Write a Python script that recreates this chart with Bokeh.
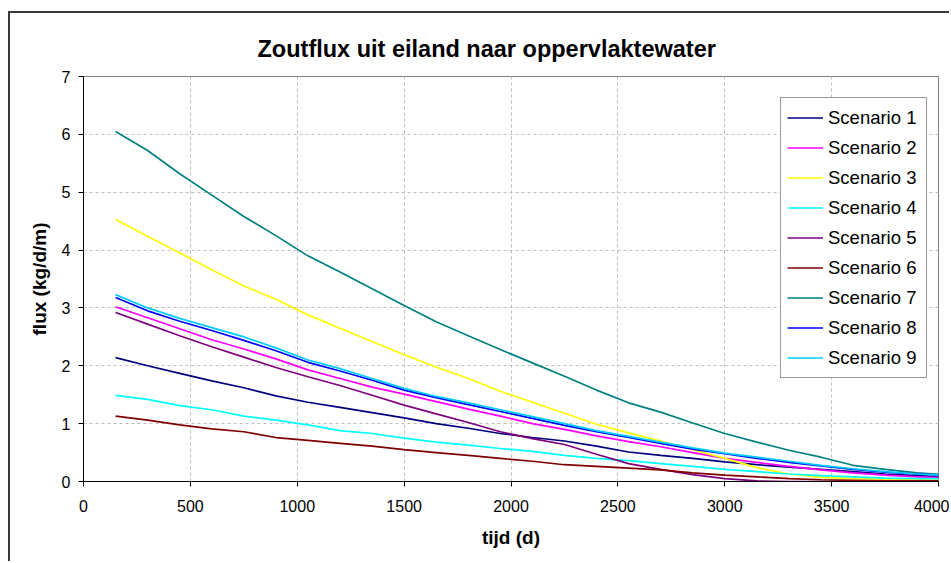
from bokeh.plotting import figure
from bokeh.models import FixedTicker, Legend, LegendItem
from bokeh.embed import file_html
from bokeh.resources import INLINE

# ---- data ----
tijd = [150, 300, 450, 600, 750, 900, 1050, 1200, 1350, 1500, 1650, 1800, 1950, 2100,
        2250, 2400, 2550, 2700, 2850, 3000, 3150, 3300, 3450, 3600, 3750, 3900, 4050]

scenario_1 = [2.14, 2.00, 1.87, 1.74, 1.62, 1.48, 1.37, 1.28, 1.19, 1.10, 1.00, 0.92, 0.83, 0.76,
              0.70, 0.61, 0.51, 0.45, 0.40, 0.34, 0.29, 0.25, 0.21, 0.17, 0.13, 0.10, 0.08]
scenario_2 = [3.02, 2.83, 2.64, 2.45, 2.29, 2.12, 1.93, 1.78, 1.63, 1.51, 1.38, 1.25, 1.13, 1.00,
              0.90, 0.79, 0.69, 0.60, 0.50, 0.40, 0.33, 0.26, 0.20, 0.15, 0.11, 0.08, 0.06]
scenario_3 = [4.53, 4.24, 3.95, 3.66, 3.38, 3.15, 2.88, 2.65, 2.42, 2.19, 1.98, 1.78, 1.56, 1.37,
              1.18, 0.99, 0.84, 0.70, 0.55, 0.40, 0.24, 0.13, 0.07, 0.05, 0.04, 0.03, 0.02]
scenario_4 = [1.49, 1.42, 1.31, 1.24, 1.13, 1.06, 0.98, 0.88, 0.83, 0.75, 0.68, 0.63, 0.57, 0.52,
              0.45, 0.40, 0.36, 0.31, 0.26, 0.21, 0.17, 0.13, 0.10, 0.08, 0.06, 0.05, 0.05]
scenario_5 = [2.92, 2.72, 2.52, 2.33, 2.15, 1.97, 1.81, 1.66, 1.49, 1.32, 1.17, 1.02, 0.86, 0.74,
              0.64, 0.47, 0.31, 0.21, 0.12, 0.05, 0.01, 0.00, 0.00, 0.00, 0.00, 0.00, 0.00]
scenario_6 = [1.13, 1.06, 0.98, 0.91, 0.86, 0.76, 0.71, 0.66, 0.61, 0.55, 0.50, 0.45, 0.40, 0.35,
              0.29, 0.26, 0.23, 0.20, 0.15, 0.11, 0.08, 0.05, 0.03, 0.02, 0.01, 0.01, 0.01]
scenario_7 = [6.05, 5.72, 5.32, 4.95, 4.58, 4.25, 3.90, 3.62, 3.33, 3.04, 2.76, 2.52, 2.28, 2.05,
              1.82, 1.58, 1.36, 1.20, 1.01, 0.83, 0.68, 0.54, 0.42, 0.28, 0.21, 0.15, 0.11]
scenario_8 = [3.18, 2.95, 2.77, 2.61, 2.44, 2.26, 2.06, 1.91, 1.75, 1.58, 1.45, 1.33, 1.21, 1.09,
              0.97, 0.86, 0.76, 0.66, 0.56, 0.48, 0.40, 0.33, 0.27, 0.21, 0.16, 0.13, 0.10]
scenario_9 = [3.23, 3.00, 2.82, 2.66, 2.50, 2.31, 2.10, 1.95, 1.78, 1.61, 1.47, 1.36, 1.24, 1.12,
              1.00, 0.88, 0.78, 0.68, 0.58, 0.49, 0.42, 0.35, 0.28, 0.22, 0.17, 0.13, 0.10]

series_names = ["Scenario 1", "Scenario 2", "Scenario 3", "Scenario 4", "Scenario 5",
                "Scenario 6", "Scenario 7", "Scenario 8", "Scenario 9"]
series_values = [scenario_1, scenario_2, scenario_3, scenario_4, scenario_5,
                 scenario_6, scenario_7, scenario_8, scenario_9]
series_colors = ["#000080", "#FF00FF", "#FFFF00", "#00FFFF", "#800080",
                 "#800000", "#008080", "#0000FF", "#00CCFF"]

x_ticks = [0, 500, 1000, 1500, 2000, 2500, 3000, 3500, 4000]
y_ticks = [0, 1, 2, 3, 4, 5, 6, 7]

FONT = "Liberation Sans"

p = figure(width=941, height=550, x_range=(0, 4000), y_range=(0, 7),
           output_backend="svg", toolbar_location=None,
           min_border_left=73, min_border_right=13, min_border_top=63, min_border_bottom=82)
p.styles = {"margin-left": "8px", "margin-top": "11px",
            "border-left": "2px solid #3a3a3a", "border-top": "2px solid #3a3a3a"}

p.title.text = "Zoutflux uit eiland naar oppervlaktewater"
p.title.text_font = FONT
p.title.text_font_size = "23.5px"
p.title.text_font_style = "bold"
p.title.text_color = "black"
p.title.align = "left"
p.title.offset = 174
p.title.standoff = 30

p.outline_line_color = "#808080"
p.outline_line_width = 1
p.background_fill_color = "white"
p.border_fill_color = "white"

for ax in (p.xaxis[0], p.yaxis[0]):
    ax.axis_line_color = "black"
    ax.axis_line_width = 1
    ax.major_tick_line_color = "black"
    ax.major_tick_out = 5
    ax.major_tick_in = 0
    ax.minor_tick_line_color = None
    ax.major_label_text_font = FONT
    ax.major_label_text_font_size = "16px"
    ax.major_label_text_color = "black"
    ax.axis_label_text_font = FONT
    ax.axis_label_text_font_size = "19px"
    ax.axis_label_text_font_style = "bold"
    ax.axis_label_text_color = "black"

p.xaxis[0].ticker = FixedTicker(ticks=x_ticks)
p.yaxis[0].ticker = FixedTicker(ticks=y_ticks)
p.xaxis[0].axis_label = "tijd (d)"
p.yaxis[0].axis_label = "flux (kg/d/m)"
p.xaxis[0].major_label_standoff = 13
p.yaxis[0].major_label_standoff = 8
p.xaxis[0].axis_label_standoff = 12
p.yaxis[0].axis_label_standoff = 9

for g in (p.xgrid[0], p.ygrid[0]):
    g.grid_line_color = "#bdbdbd"
    g.grid_line_dash = "3 3"
    g.grid_line_width = 1
p.xgrid[0].ticker = FixedTicker(ticks=x_ticks)
p.ygrid[0].ticker = FixedTicker(ticks=y_ticks)

items = []
for name, vals, col in zip(series_names, series_values, series_colors):
    r = p.line(tijd, vals, line_color=col, line_width=1.7)
    items.append(LegendItem(label=name, renderers=[r]))

legend = Legend(items=items, location=(697, 103))
legend.label_text_font = FONT
legend.label_text_font_size = "18.5px"
legend.label_text_color = "black"
legend.glyph_width = 36
legend.glyph_height = 27
legend.label_height = 27
legend.label_width = 92
legend.label_standoff = 5
legend.spacing = 3
legend.padding = 6
legend.margin = 0
legend.border_line_color = "#333333"
legend.border_line_width = 1
legend.background_fill_color = "white"
legend.background_fill_alpha = 1
p.add_layout(legend)

open("out.html", "w").write(file_html(p, INLINE))
